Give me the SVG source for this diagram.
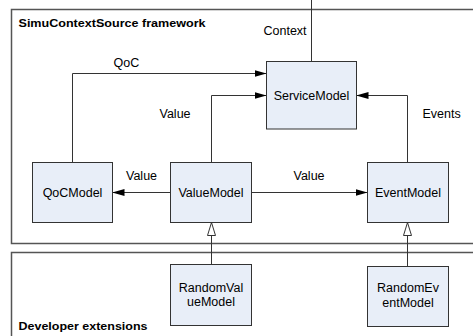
<svg xmlns="http://www.w3.org/2000/svg" width="473" height="336" viewBox="0 0 473 336">
<style>
.frame{fill:#ffffff;stroke:#555555;stroke-width:1.5}
.node{fill:#e8eef8;stroke:#333333;stroke-width:1}
.conn{fill:none;stroke:#333333;stroke-width:1}
text{font-family:"Liberation Sans",Arial,sans-serif;font-size:12.5px;fill:#000000}
.title{font-weight:bold;font-size:11.5px}
.c{text-anchor:middle}
</style>
<defs>
<marker id="arrow" viewBox="0 0 12 7" refX="12" refY="3.5" markerWidth="12" markerHeight="7" markerUnits="userSpaceOnUse" orient="auto">
<path d="M0,0 L12,3.5 L0,7 z" fill="#000000"/>
</marker>
<marker id="inherit" viewBox="0 0 14 9" refX="13.5" refY="4.5" markerWidth="14" markerHeight="9" markerUnits="userSpaceOnUse" orient="auto">
<path d="M0.5,0.5 L13.5,4.5 L0.5,8.5 z" fill="#ffffff" stroke="#333333" stroke-width="1"/>
</marker>
</defs>
<g id="framework">
<rect class="frame" x="11.5" y="9.5" width="480" height="234"/>
<text class="title" x="18.5" y="27" textLength="187" lengthAdjust="spacingAndGlyphs">SimuContextSource framework</text>
</g>
<g id="developer">
<rect class="frame" x="11.5" y="252.5" width="480" height="100"/>
<text class="title" x="18.5" y="330" textLength="129" lengthAdjust="spacingAndGlyphs">Developer extensions</text>
</g>
<g id="connectors">
<path class="conn" d="M311.5,0 V61.5"/>
<path class="conn" d="M72.5,162.5 V73.5 H266.5" marker-end="url(#arrow)"/>
<path class="conn" d="M211.5,162.5 V95.5 H266.5" marker-end="url(#arrow)"/>
<path class="conn" d="M407.5,162.5 V95.5 H356.5" marker-end="url(#arrow)"/>
<path class="conn" d="M170.5,192.5 H112.5" marker-end="url(#arrow)"/>
<path class="conn" d="M251.5,192.5 H367.5" marker-end="url(#arrow)"/>
<path class="conn" d="M211.5,264.5 V222.5" marker-end="url(#inherit)"/>
<path class="conn" d="M407.5,266.5 V222.5" marker-end="url(#inherit)"/>
<text x="263.5" y="35">Context</text>
<text x="113.5" y="66.5">QoC</text>
<text x="159.5" y="118">Value</text>
<text x="422.5" y="118">Events</text>
<text x="126" y="180">Value</text>
<text x="293.5" y="180">Value</text>
</g>
<g id="ServiceModel">
<rect class="node" x="266.5" y="61.5" width="90" height="67.5"/>
<text class="c" x="311.5" y="99.5">ServiceModel</text>
</g>
<g id="QoCModel">
<rect class="node" x="32.5" y="162.5" width="80" height="60"/>
<text class="c" x="72.5" y="196.5">QoCModel</text>
</g>
<g id="ValueModel">
<rect class="node" x="170.5" y="162.5" width="81" height="60"/>
<text class="c" x="211" y="196.5">ValueModel</text>
</g>
<g id="EventModel">
<rect class="node" x="367.5" y="162.5" width="81" height="60"/>
<text class="c" x="408" y="196.5">EventModel</text>
</g>
<g id="RandomValueModel">
<rect class="node" x="170.5" y="264.5" width="81" height="61"/>
<text class="c" x="211" y="291.5">RandomVal</text>
<text class="c" x="211" y="306">ueModel</text>
</g>
<g id="RandomEventModel">
<rect class="node" x="367.5" y="266.5" width="81" height="60"/>
<text class="c" x="408" y="292">RandomEv</text>
<text class="c" x="408" y="306.5">entModel</text>
</g>
</svg>
